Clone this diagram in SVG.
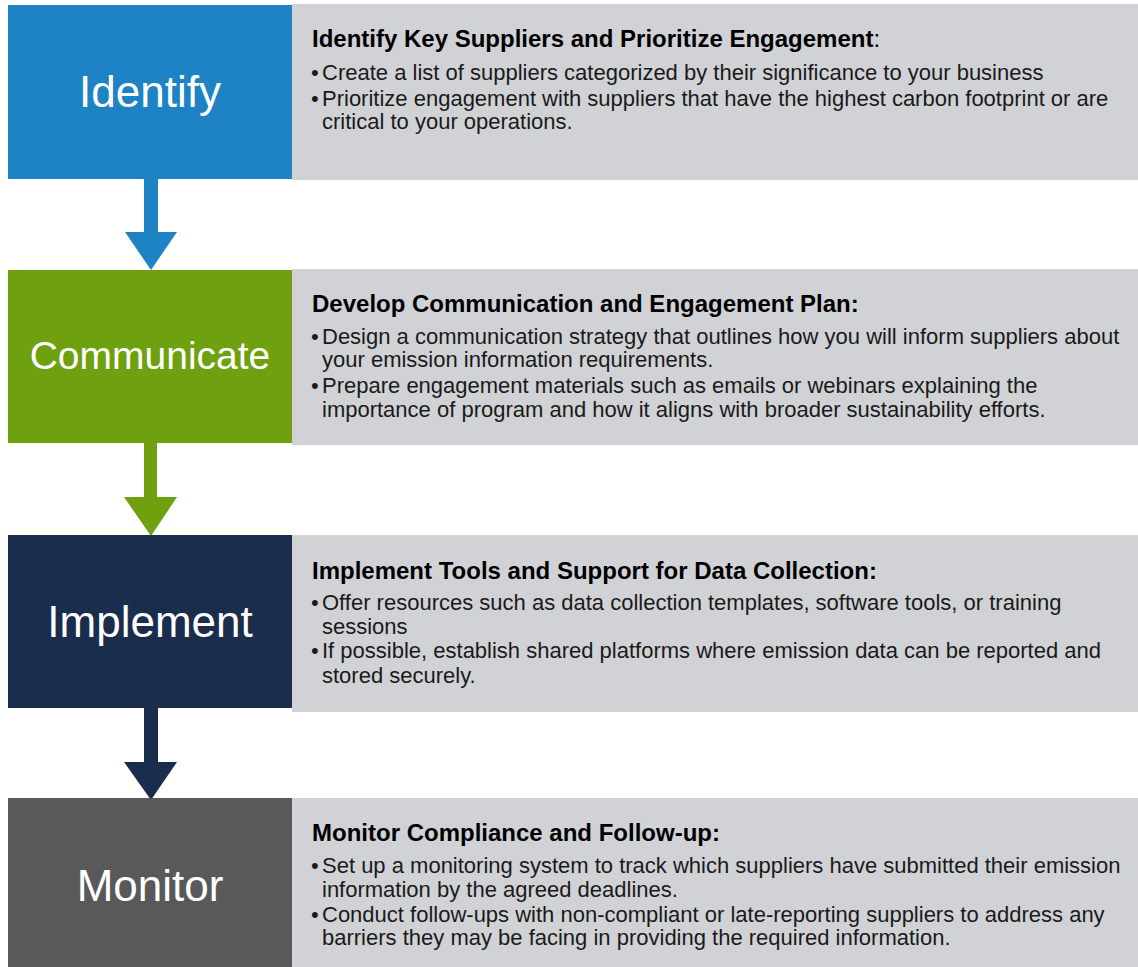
<svg xmlns="http://www.w3.org/2000/svg" width="1138" height="967" viewBox="0 0 1138 967">
  <style>
    .panel { fill: #D1D2D6; }
    .label { font-family: "Liberation Sans", Arial, sans-serif; font-size: 44px; fill: #FFFFFF; text-anchor: middle; }
    .title { font-family: "Liberation Sans", Arial, sans-serif; font-size: 24px; font-weight: bold; fill: #000000; }
    .body { font-family: "Liberation Sans", Arial, sans-serif; font-size: 22px; fill: #1A1A1A; }
    .plain { font-weight: normal; }
  </style>
  <rect width="1138" height="967" fill="#FFFFFF"/>

  <!-- connectors between the step boxes -->
  <g id="connectors">
    <polygon fill="#1D83C4" points="144,178 158,178 158,232 177,232 151,270 125,232 144,232"/>
    <polygon fill="#6FA00F" points="144,442 157,442 157,497 177,497 151,536 124,497 144,497"/>
    <polygon fill="#1B2D4C" points="144,707 158,707 158,762 177,762 151,800 124,762 144,762"/>
  </g>

  <g id="identify">
    <rect class="panel" x="292" y="4" width="846" height="176"/>
    <rect x="8" y="5" width="284" height="174" fill="#1D83C4"/>
    <text class="label" x="150" y="107">Identify</text>
    <text class="title" x="312" y="47">Identify Key Suppliers and Prioritize Engagement<tspan class="plain">:</tspan></text>
    <text class="body" x="311" y="80">•</text>
    <text class="body" x="322" y="80">Create a list of suppliers categorized by their significance to your business</text>
    <text class="body" x="311" y="106">•</text>
    <text class="body" x="322" y="106">Prioritize engagement with suppliers that have the highest carbon footprint or are</text>
    <text class="body" x="322" y="129">critical to your operations.</text>
  </g>

  <g id="communicate">
    <rect class="panel" x="292" y="269" width="846" height="176"/>
    <rect x="8" y="270" width="284" height="173" fill="#6FA00F"/>
    <text class="label" x="150" y="369" style="font-size:39px">Communicate</text>
    <text class="title" x="312" y="312">Develop Communication and Engagement Plan:</text>
    <text class="body" x="311" y="344">•</text>
    <text class="body" x="322" y="344">Design a communication strategy that outlines how you will inform suppliers about</text>
    <text class="body" x="322" y="367">your emission information requirements.</text>
    <text class="body" x="311" y="393">•</text>
    <text class="body" x="322" y="393">Prepare engagement materials such as emails or webinars explaining the</text>
    <text class="body" x="322" y="417">importance of program and how it aligns with broader sustainability efforts.</text>
  </g>

  <g id="implement">
    <rect class="panel" x="292" y="535" width="846" height="177"/>
    <rect x="8" y="535" width="284" height="173" fill="#1B2D4C"/>
    <text class="label" x="150" y="637">Implement</text>
    <text class="title" x="312" y="579">Implement Tools and Support for Data Collection:</text>
    <text class="body" x="311" y="610">•</text>
    <text class="body" x="322" y="610">Offer resources such as data collection templates, software tools, or training</text>
    <text class="body" x="322" y="634">sessions</text>
    <text class="body" x="311" y="658">•</text>
    <text class="body" x="322" y="658">If possible, establish shared platforms where emission data can be reported and</text>
    <text class="body" x="322" y="683">stored securely.</text>
  </g>

  <g id="monitor">
    <rect class="panel" x="292" y="798" width="846" height="169"/>
    <rect x="8" y="798" width="284" height="169" fill="#595959"/>
    <text class="label" x="150" y="901">Monitor</text>
    <text class="title" x="312" y="841">Monitor Compliance and Follow-up:</text>
    <text class="body" x="311" y="873">•</text>
    <text class="body" x="322" y="873">Set up a monitoring system to track which suppliers have submitted their emission</text>
    <text class="body" x="322" y="897">information by the agreed deadlines.</text>
    <text class="body" x="311" y="922">•</text>
    <text class="body" x="322" y="922">Conduct follow-ups with non-compliant or late-reporting suppliers to address any</text>
    <text class="body" x="322" y="945">barriers they may be facing in providing the required information.</text>
  </g>
</svg>
